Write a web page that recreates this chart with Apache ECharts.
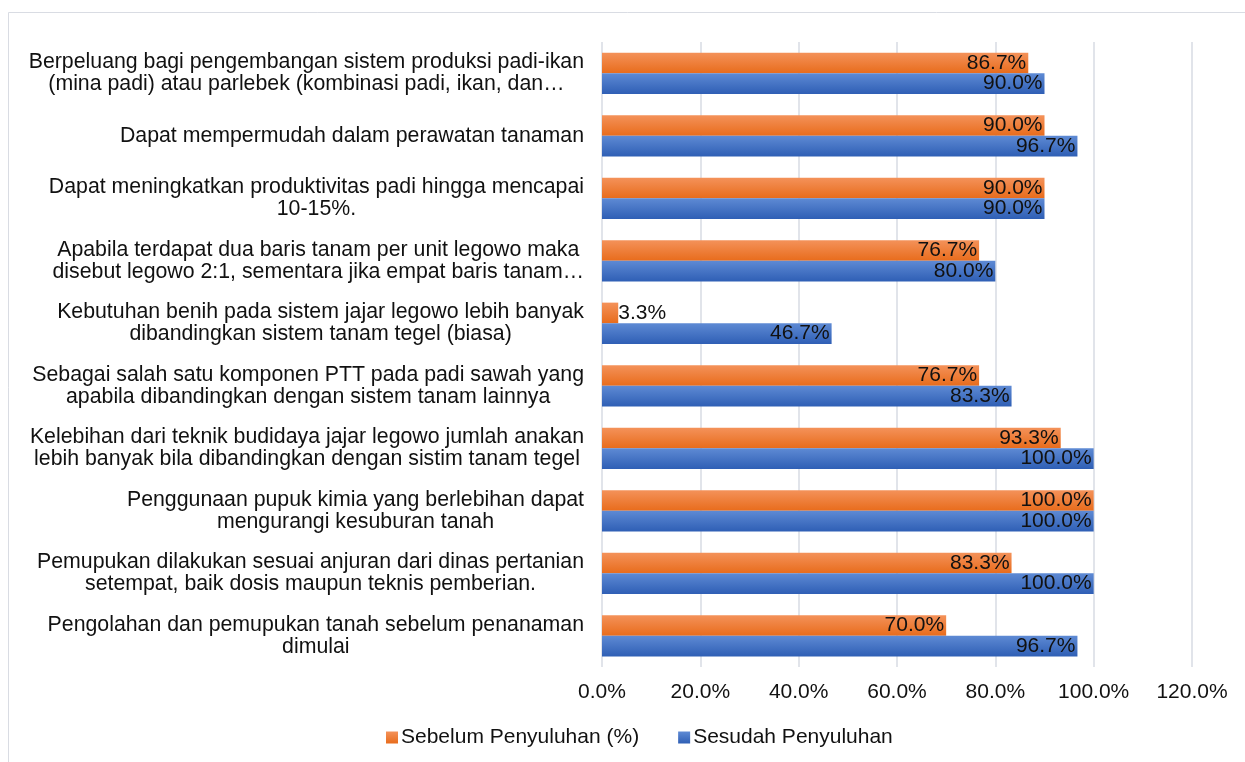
<!DOCTYPE html>
<html>
<head>
<meta charset="utf-8">
<script src="https://cdn.jsdelivr.net/npm/echarts@6/dist/echarts.min.js"></script>
<style>
  html, body { margin: 0; padding: 0; background: #fff; }
  #chart { width: 1245px; height: 762px; }
</style>
</head>
<body>
<div id="chart"></div>
<script>
// kategori, urut dari atas ke bawah
var categories = [
  'Berpeluang bagi pengembangan sistem produksi padi-ikan\n(mina padi) atau parlebek (kombinasi padi, ikan, dan…',
  'Dapat mempermudah dalam perawatan tanaman',
  'Dapat meningkatkan produktivitas padi hingga mencapai\n10-15%.',
  'Apabila terdapat dua baris tanam per unit legowo maka\ndisebut legowo 2:1, sementara jika empat baris tanam…',
  'Kebutuhan benih pada sistem jajar legowo lebih banyak\ndibandingkan sistem tanam tegel (biasa)',
  'Sebagai salah satu komponen PTT pada padi sawah yang\napabila dibandingkan dengan sistem tanam lainnya',
  'Kelebihan dari teknik budidaya jajar legowo jumlah anakan\nlebih banyak bila dibandingkan dengan sistim tanam tegel',
  'Penggunaan pupuk kimia yang berlebihan dapat\nmengurangi kesuburan tanah',
  'Pemupukan dilakukan sesuai anjuran dari dinas pertanian\nsetempat, baik dosis maupun teknis pemberian.',
  'Pengolahan dan pemupukan tanah sebelum penanaman\ndimulai'
];
var sebelum = [86.7, 90.0, 90.0, 76.7, 3.3, 76.7, 93.3, 100.0, 83.3, 70.0];
var sesudah = [90.0, 96.7, 90.0, 80.0, 46.7, 83.3, 100.0, 100.0, 100.0, 96.7];

var FONT = '"Liberation Sans", Arial, Helvetica, sans-serif';
var FS = 21;

function grad(top, bottom) {
  return new echarts.graphic.LinearGradient(0, 0, 0, 1, [
    {offset: 0, color: top},
    {offset: 1, color: bottom}
  ]);
}
var orange = grad('#f4925a', '#e86c1c');
var blue = grad('#5e8ad4', '#2f5fb5');

function labelled(arr) {
  return arr.map(function (v) {
    if (v < 10) {
      return {value: v, label: {position: 'right', distance: 0}};
    }
    return v;
  });
}

var chart = echarts.init(document.getElementById('chart'));
chart.setOption({
  backgroundColor: '#fff',
  animation: false,
  textStyle: {fontFamily: FONT},
  graphic: [{
    type: 'rect',
    shape: {x: 8.5, y: 12.5, width: 1300, height: 800},
    style: {fill: 'none', stroke: '#d9dce3', lineWidth: 1},
    silent: true
  }],
  grid: {left: 602, right: 53, top: 42, bottom: 95},
  legend: {
    left: 381,
    top: 722,
    itemWidth: 12,
    itemHeight: 12,
    itemGap: 39,
    icon: 'rect',
    textStyle: {fontFamily: FONT, fontSize: FS, color: '#111', padding: [0, 0, 0, -2]},
    data: ['Sebelum Penyuluhan (%)', 'Sesudah Penyuluhan']
  },
  xAxis: {
    type: 'value',
    min: 0,
    max: 120,
    interval: 20,
    axisLine: {show: false},
    axisTick: {show: false},
    splitLine: {lineStyle: {color: '#e1e4ea', width: 2}},
    axisLabel: {
      fontFamily: FONT,
      fontSize: FS,
      color: '#111',
      margin: 15,
      formatter: function (v) { return v.toFixed(1) + '%'; }
    }
  },
  yAxis: {
    type: 'category',
    inverse: true,
    data: categories,
    axisLine: {show: false},
    axisTick: {show: false},
    axisLabel: {
      margin: 18,
      formatter: function (v) {
        return v.split('\n').map(function (l) { return '{c|' + l + '}'; }).join('\n');
      },
      rich: {
        c: {align: 'center', fontFamily: FONT, fontSize: 21.3, lineHeight: 22, color: '#111'}
      }
    }
  },
  series: [
    {
      name: 'Sebelum Penyuluhan (%)',
      type: 'bar',
      barWidth: '33%',
      barGap: '0%',
      itemStyle: {color: orange},
      label: {
        show: true,
        position: 'insideRight',
        distance: 2,
        fontFamily: FONT,
        fontSize: FS,
        color: '#111',
        formatter: function (p) { return p.value.toFixed(1) + '%'; }
      },
      data: labelled(sebelum)
    },
    {
      name: 'Sesudah Penyuluhan',
      type: 'bar',
      barWidth: '33%',
      barGap: '0%',
      itemStyle: {color: blue},
      label: {
        show: true,
        position: 'insideRight',
        distance: 2,
        fontFamily: FONT,
        fontSize: FS,
        color: '#111',
        formatter: function (p) { return p.value.toFixed(1) + '%'; }
      },
      data: labelled(sesudah)
    }
  ]
});
</script>
</body>
</html>
